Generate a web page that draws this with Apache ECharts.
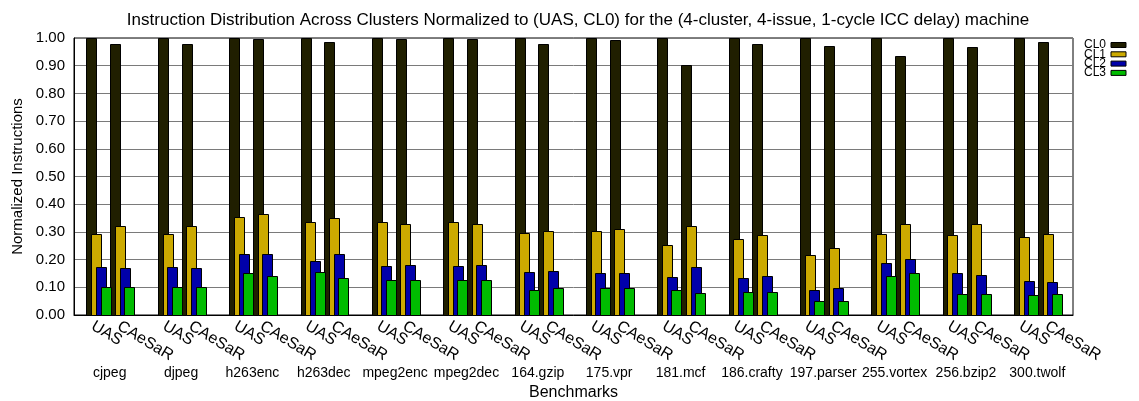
<!DOCTYPE html>
<html>
<head>
<meta charset="utf-8">
<script src="https://cdn.jsdelivr.net/npm/echarts@6/dist/echarts.min.js"></script>
<style>html,body{margin:0;padding:0;background:#fff}#c{width:1139px;height:401px}</style>
</head>
<body>
<div id="c"></div>
<script>
const benchmarks = ['cjpeg','djpeg','h263enc','h263dec','mpeg2enc','mpeg2dec','164.gzip','175.vpr','181.mcf','186.crafty','197.parser','255.vortex','256.bzip2','300.twolf'];
const configs = ['UAS','CAeSaR'];
const clusters = ['CL0','CL1','CL2','CL3'];
const yTicks = [0,0.1,0.2,0.3,0.4,0.5,0.6,0.7,0.8,0.9,1.0];

const cl0_uas    = [1.000,1.000,1.000,1.000,1.000,1.000,1.000,1.000,1.000,1.000,1.000,1.000,1.000,1.000];
const cl0_caesar = [0.978,0.978,0.996,0.986,0.998,0.998,0.978,0.991,0.902,0.979,0.970,0.936,0.967,0.985];
const cl1_uas    = [0.292,0.292,0.353,0.337,0.336,0.336,0.295,0.305,0.251,0.274,0.217,0.292,0.288,0.282];
const cl1_caesar = [0.321,0.321,0.363,0.350,0.330,0.330,0.305,0.311,0.321,0.288,0.241,0.330,0.329,0.293];
const cl2_uas    = [0.172,0.172,0.220,0.195,0.176,0.176,0.155,0.151,0.138,0.133,0.091,0.186,0.152,0.122];
const cl2_caesar = [0.169,0.169,0.222,0.220,0.181,0.181,0.158,0.152,0.175,0.140,0.098,0.203,0.146,0.120];
const cl3_uas    = [0.102,0.102,0.150,0.157,0.126,0.126,0.089,0.098,0.089,0.084,0.052,0.140,0.077,0.072];
const cl3_caesar = [0.100,0.100,0.142,0.134,0.126,0.126,0.098,0.098,0.079,0.083,0.050,0.151,0.076,0.077];

const colors = ['#201f00','#ccaa00','#0000aa','#00bb00'];
const FONT = '"Liberation Sans", Arial, Helvetica, sans-serif';

const uasVals = [cl0_uas, cl1_uas, cl2_uas, cl3_uas];
const caeVals = [cl0_caesar, cl1_caesar, cl2_caesar, cl3_caesar];

// layout fractions of category band
const CFG_OFF = [-0.325, 0.008];
const BAR_W = 0.14;
const STEP = 0.066;

function barSeries(k) {
  const data = [];
  benchmarks.forEach((b, i) => {
    data.push([i, 0, uasVals[k][i]]);
    data.push([i, 1, caeVals[k][i]]);
  });
  return {
    type: 'custom',
    name: clusters[k],
    itemStyle: { color: colors[k], borderColor: '#000', borderWidth: 1 },
    encode: { x: 0, y: 2 },
    data: data,
    z: 2 + k,
    renderItem: function (params, api) {
      const i = api.value(0), cfg = api.value(1), v = api.value(2);
      const base = api.coord([i, 0]);
      const top = api.coord([i, v]);
      const band = api.size([1, 0])[0];
      const x0 = base[0] + band * CFG_OFF[cfg] + k * band * STEP;
      return {
        type: 'rect',
        shape: { x: Math.round(x0) + 0.5, y: Math.round(top[1]) + 0.5, width: Math.round(band * BAR_W), height: Math.round(base[1]) - Math.round(top[1]) },
        style: { fill: colors[k], stroke: '#000', lineWidth: 1 }
      };
    }
  };
}

const labelData = [];
benchmarks.forEach((b, i) => { labelData.push([i, 0, 0]); labelData.push([i, 1, 0]); });

const labelSeries = {
  type: 'custom',
  name: 'cfgLabels',
  clip: false,
  silent: true,
  encode: { x: 0, y: 2 },
  data: labelData,
  z: 10,
  renderItem: function (params, api) {
    const i = api.value(0), cfg = api.value(1);
    const base = api.coord([i, 0]);
    const band = api.size([1, 0])[0];
    const x = base[0] + band * (cfg === 0 ? -0.182 : 0.182);
    return {
      type: 'text',
      x: x,
      y: base[1] + 3,
      rotation: -31 * Math.PI / 180,
      style: { text: configs[cfg], x: 0, y: 0, fill: '#000', font: '16px ' + FONT, align: 'left', verticalAlign: 'top' }
    };
  }
};

const chart = echarts.init(document.getElementById('c'));
chart.setOption({
  animation: false,
  backgroundColor: '#fff',
  title: {
    text: 'Instruction Distribution Across Clusters Normalized to (UAS, CL0) for the (4-cluster, 4-issue, 1-cycle ICC delay) machine',
    left: 573, textAlign: 'center', top: 7,
    textStyle: { fontSize: 17, fontWeight: 'normal', color: '#000', fontFamily: FONT }
  },
  legend: {
    data: clusters,
    orient: 'vertical',
    left: 1084, top: 39,
    align: 'right',
    icon: 'rect',
    itemWidth: 15, itemHeight: 5,
    itemGap: -2.7,
    padding: 0,
    itemStyle: { borderColor: '#000', borderWidth: 1 },
    textStyle: { fontSize: 12, color: '#000', fontFamily: FONT, padding: [0, 0, 0, 0] },
    selectedMode: false
  },
  grid: { left: 74, right: 66, top: 38, bottom: 86, outerBoundsMode: 'none', containLabel: false, show: true, borderColor: '#000', borderWidth: 1, backgroundColor: 'transparent' },
  xAxis: {
    type: 'category',
    data: benchmarks,
    name: 'Benchmarks',
    nameLocation: 'middle',
    nameGap: 64,
    nameTextStyle: { fontSize: 16, color: '#000', fontFamily: FONT },
    axisLine: { lineStyle: { color: '#000', width: 1 } },
    axisTick: { show: false },
    axisLabel: { interval: 0, margin: 51, fontSize: 14, color: '#000', fontFamily: FONT },
    splitLine: { show: false }
  },
  yAxis: {
    type: 'value',
    min: 0, max: 1, interval: 0.1,
    name: 'Normalized Instructions',
    nameLocation: 'middle',
    nameGap: 49,
    nameTextStyle: { fontSize: 15, color: '#000', fontFamily: FONT },
    axisLine: { show: true, lineStyle: { color: '#000' } },
    axisTick: { show: false },
    axisLabel: { fontSize: 15, color: '#000', fontFamily: FONT, margin: 9,
      formatter: v => yTicks.some(t => Math.abs(t - v) < 1e-9) ? v.toFixed(2) : '' },
    splitLine: { show: true, lineStyle: { color: '#7a7a7a', width: 1 } }
  },
  series: [barSeries(0), barSeries(1), barSeries(2), barSeries(3), labelSeries]
});
</script>
</body>
</html>
